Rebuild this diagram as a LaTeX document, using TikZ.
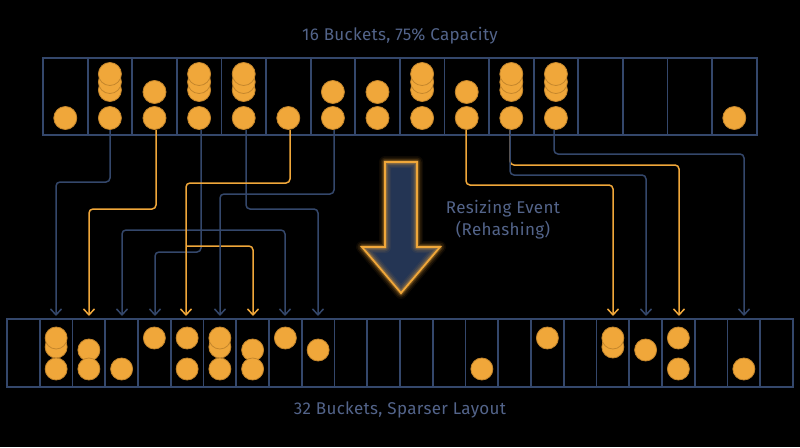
\documentclass[tikz,border=0pt]{standalone}
\usepackage{fontspec}
\setmainfont{Fira Sans}
\begin{document}
\begin{tikzpicture}[x=1pt,y=-1pt,
  cellb/.style={draw=lineblue,line width=1.8pt},
  coin/.style={fill=coinfill,draw=coinedge,line width=0.8pt},
  bl/.style={draw=lineblue,line width=1.5pt,rounded corners=4pt},
  ol/.style={draw=coinfill,line width=1.5pt,rounded corners=4pt},
  tip/.style={-{Straight Barb[length=6pt,width=11pt]}},
  lbl/.style={text=labelc,font=\fontsize{17}{22}\selectfont\addfontfeature{LetterSpace=2}}]
\definecolor{lineblue}{HTML}{34476B}
\definecolor{coinfill}{HTML}{F0A73A}
\definecolor{coinedge}{HTML}{C4862C}
\definecolor{labelc}{HTML}{53648A}
\definecolor{arrowfill}{HTML}{243554}
\usetikzlibrary{arrows.meta}
\fill[black] (0,0) rectangle (800,447);
\useasboundingbox (0,0) rectangle (800,447);
\node[lbl] (t1) at (400,36) {16 Buckets, 75\% Capacity};
\node[lbl] (t2) at (400,410) {32 Buckets, Sparser Layout};
\node[lbl,align=center] (t3) at (503,220) {Resizing Event\\(Rehashing)};
% top row
\foreach \i in {0,...,15}{
  \draw[cellb] ({43+44.6*\i},58) rectangle ({43+44.6*(\i+1)},135);
}
\newcommand\tcx[1]{{43+44.6*(#1+0.5)}}
\foreach \i in {0,5,15}{\fill[coin] (\tcx{\i},118) circle (11.5);}
\foreach \i in {2,6,7,9}{\fill[coin] (\tcx{\i},118) circle (11.5);\fill[coin] (\tcx{\i},92) circle (11.5);}
\foreach \i in {1,3,4,8,10,11}{\fill[coin] (\tcx{\i},118) circle (11.5);
  \foreach \yy in {90,82,74}{\fill[coin] (\tcx{\i},\yy) circle (11.5);}}
% bottom row
\foreach \j in {0,...,23}{
  \draw[cellb] ({7+32.75*\j},319) rectangle ({7+32.75*(\j+1)},387);
}
\newcommand\bcx[1]{{7+32.75*(#1+0.5)}}
\foreach \j/\yy in {1/347,1/338,1/369,2/350,2/369,3/369,4/338,5/338,5/369,6/347,6/338,6/369,7/350,7/369,8/338,9/350,14/369,16/338,18/347,18/338,19/350,20/338,20/369,22/369}{
  \fill[coin] (\bcx{\j},\yy) circle (11);
}
% connectors
\draw[bl,tip] (110,130) |- (56,182) -- (56,316);
\draw[ol,tip] (156,130) |- (89,209) -- (89,316);
\draw[bl,tip] (201,130) |- (155,252) -- (155,316);
\coordinate (br) at (201,230);
\draw[bl,tip] (br) -| (122,316);
\draw[bl,tip] (br) -| (285,316);
\draw[bl,tip] (246,130) |- (318,209) -- (318,316);
\draw[ol,tip] (290,130) |- (186,183) -- (186,316);
\draw[ol,tip] (186,246) -- (253,246) -- (253,316);
\draw[bl,tip] (334,130) |- (220,194) -- (220,316);
\draw[ol,tip] (466,130) |- (613,185) -- (613,316);
\draw[ol,tip] (510,130) |- (679,165) -- (679,316);
\draw[bl,tip] (510,130) |- (646,175) -- (646,316);
\draw[bl,tip] (554,130) |- (744,154) -- (744,316);
% big arrow
\path[fill=arrowfill] (385,162) -- (417,162) -- (417,247) -- (440,247) -- (401,293) -- (362,247) -- (385,247) -- cycle;
\foreach \w/\o in {12/0.06,9/0.1,6/0.15,4/0.25}{
\draw[coinfill,line width=\w pt,opacity=\o,line join=round] (385,162) -- (417,162) -- (417,247) -- (440,247) -- (401,293) -- (362,247) -- (385,247) -- cycle;}
\draw[coinfill,line width=1.8pt,line join=miter] (385,162) -- (417,162) -- (417,247) -- (440,247) -- (401,293) -- (362,247) -- (385,247) -- cycle;
\end{tikzpicture}
\end{document}
